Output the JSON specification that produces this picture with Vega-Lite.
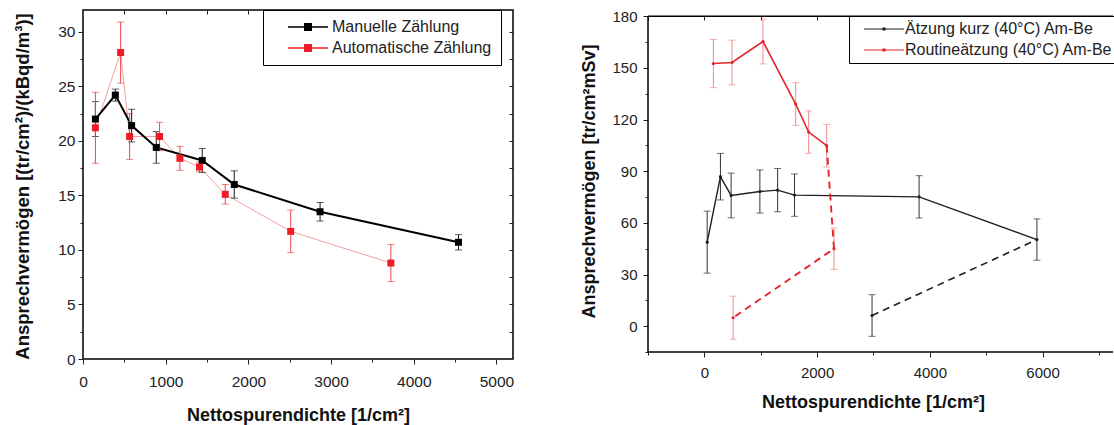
{
  "$schema": "https://vega.github.io/schema/vega-lite/v6.json",
  "padding": {"left": 13, "top": 8, "right": 0, "bottom": 0},
  "spacing": 65,
  "resolve": {"scale": {"fill": "independent"}, "legend": {"fill": "independent"}},
  "config": {
    "font": "Liberation Sans",
    "view": {"stroke": "#000", "strokeWidth": 1.5},
    "axis": {"tickColor": "#222", "labelColor": "#222", "labelFontSize": 15.5, "titleFontSize": 18, "titleFontWeight": "bold", "titleColor": "#111", "grid": false, "domain": false, "labelFlush": false, "format": "d"}
  },
  "datasets": {
    "left": [
      {"series": "Manuelle Zählung", "x": 150, "y": 22.0, "err": 1.6},
      {"series": "Manuelle Zählung", "x": 391, "y": 24.2, "err": 0.55},
      {"series": "Manuelle Zählung", "x": 588, "y": 21.4, "err": 1.5},
      {"series": "Manuelle Zählung", "x": 886, "y": 19.4, "err": 1.45},
      {"series": "Manuelle Zählung", "x": 1442, "y": 18.2, "err": 1.1},
      {"series": "Manuelle Zählung", "x": 1829, "y": 16.0, "err": 1.25},
      {"series": "Manuelle Zählung", "x": 2867, "y": 13.5, "err": 0.85},
      {"series": "Manuelle Zählung", "x": 4541, "y": 10.7, "err": 0.7},
      {"series": "Automatische Zählung", "x": 150, "y": 21.2, "err": 3.25},
      {"series": "Automatische Zählung", "x": 455, "y": 28.1, "err": 2.8},
      {"series": "Automatische Zählung", "x": 564, "y": 20.4, "err": 2.1},
      {"series": "Automatische Zählung", "x": 926, "y": 20.4, "err": 1.3},
      {"series": "Automatische Zählung", "x": 1172, "y": 18.4, "err": 1.1},
      {"series": "Automatische Zählung", "x": 1409, "y": 17.6, "err": 0.45},
      {"series": "Automatische Zählung", "x": 1720, "y": 15.1, "err": 0.9},
      {"series": "Automatische Zählung", "x": 2512, "y": 11.7, "err": 1.95},
      {"series": "Automatische Zählung", "x": 3723, "y": 8.8, "err": 1.7}
    ],
    "rl": [
      {"series": "Ätzung kurz (40°C) Am-Be", "part": "solid", "o": 1, "x": 50, "y": 48.8},
      {"series": "Ätzung kurz (40°C) Am-Be", "part": "solid", "o": 2, "x": 285, "y": 86.8},
      {"series": "Ätzung kurz (40°C) Am-Be", "part": "solid", "o": 3, "x": 475, "y": 75.9},
      {"series": "Ätzung kurz (40°C) Am-Be", "part": "solid", "o": 4, "x": 985, "y": 78.2},
      {"series": "Ätzung kurz (40°C) Am-Be", "part": "solid", "o": 5, "x": 1300, "y": 79.0},
      {"series": "Ätzung kurz (40°C) Am-Be", "part": "solid", "o": 6, "x": 1600, "y": 76.1},
      {"series": "Ätzung kurz (40°C) Am-Be", "part": "solid", "o": 7, "x": 3810, "y": 75.1},
      {"series": "Ätzung kurz (40°C) Am-Be", "part": "solid", "o": 8, "x": 5900, "y": 50.3},
      {"series": "Ätzung kurz (40°C) Am-Be", "part": "dashed", "o": 1, "x": 2975, "y": 6.2},
      {"series": "Ätzung kurz (40°C) Am-Be", "part": "dashed", "o": 2, "x": 5900, "y": 50.3},
      {"series": "Routineätzung (40°C) Am-Be", "part": "solid", "o": 1, "x": 160, "y": 152.5},
      {"series": "Routineätzung (40°C) Am-Be", "part": "solid", "o": 2, "x": 490, "y": 153.1},
      {"series": "Routineätzung (40°C) Am-Be", "part": "solid", "o": 3, "x": 1040, "y": 165.3},
      {"series": "Routineätzung (40°C) Am-Be", "part": "solid", "o": 4, "x": 1620, "y": 129.0},
      {"series": "Routineätzung (40°C) Am-Be", "part": "solid", "o": 5, "x": 1850, "y": 112.7},
      {"series": "Routineätzung (40°C) Am-Be", "part": "solid", "o": 6, "x": 2170, "y": 104.8},
      {"series": "Routineätzung (40°C) Am-Be", "part": "dashed", "o": 1, "x": 2170, "y": 104.8},
      {"series": "Routineätzung (40°C) Am-Be", "part": "dashed", "o": 2, "x": 2300, "y": 45.0},
      {"series": "Routineätzung (40°C) Am-Be", "part": "dashed", "o": 3, "x": 510, "y": 4.9}
    ],
    "rp": [
      {"series": "Ätzung kurz (40°C) Am-Be", "x": 50, "y": 48.8, "err": 18},
      {"series": "Ätzung kurz (40°C) Am-Be", "x": 285, "y": 86.8, "err": 13.5},
      {"series": "Ätzung kurz (40°C) Am-Be", "x": 475, "y": 75.9, "err": 13},
      {"series": "Ätzung kurz (40°C) Am-Be", "x": 985, "y": 78.2, "err": 12.5},
      {"series": "Ätzung kurz (40°C) Am-Be", "x": 1300, "y": 79.0, "err": 12.6},
      {"series": "Ätzung kurz (40°C) Am-Be", "x": 1600, "y": 76.1, "err": 12.3},
      {"series": "Ätzung kurz (40°C) Am-Be", "x": 3810, "y": 75.1, "err": 12.3},
      {"series": "Ätzung kurz (40°C) Am-Be", "x": 5900, "y": 50.3, "err": 12},
      {"series": "Ätzung kurz (40°C) Am-Be", "x": 2975, "y": 6.2, "err": 12.1},
      {"series": "Routineätzung (40°C) Am-Be", "x": 160, "y": 152.5, "err": 14},
      {"series": "Routineätzung (40°C) Am-Be", "x": 490, "y": 153.1, "err": 13},
      {"series": "Routineätzung (40°C) Am-Be", "x": 1040, "y": 165.3, "err": 13},
      {"series": "Routineätzung (40°C) Am-Be", "x": 1620, "y": 129.0, "err": 12.4},
      {"series": "Routineätzung (40°C) Am-Be", "x": 1850, "y": 112.7, "err": 12.3},
      {"series": "Routineätzung (40°C) Am-Be", "x": 2170, "y": 104.8, "err": 12.4},
      {"series": "Routineätzung (40°C) Am-Be", "x": 2300, "y": 45.0, "err": 12},
      {"series": "Routineätzung (40°C) Am-Be", "x": 510, "y": 4.9, "err": 12.5}
    ]
  },
  "hconcat": [
    {
      "width": 430,
      "height": 349,
      "data": {"name": "left"},
      "layer": [
        {
          "transform": [{"filter": "datum.series === 'Automatische Zählung'"}],
          "mark": {"type": "line", "color": "#f3a0a0", "strokeWidth": 1},
          "encoding": {
            "x": {"field": "x", "type": "quantitative", "scale": {"domain": [0, 5200], "nice": false, "zero": false},
                  "axis": {"orient": "bottom", "values": [0, 1000, 2000, 3000, 4000, 5000], "tickSize": 5, "labelPadding": 10, "title": "Nettospurendichte [1/cm²]", "titlePadding": 17}},
            "y": {"field": "y", "type": "quantitative", "scale": {"domain": [0, 32], "nice": false, "zero": false},
                  "axis": {"orient": "left", "values": [0, 5, 10, 15, 20, 25, 30], "tickSize": 5, "labelPadding": 3, "title": "Ansprechvermögen [(tr/cm²)/(kBqd/m³)]", "titleFontSize": 18.5, "titlePadding": 25, "titleY": 176}}
          }
        },
        {
          "transform": [{"filter": "datum.series === 'Manuelle Zählung'"}],
          "mark": {"type": "line", "color": "#000000", "strokeWidth": 2},
          "encoding": {
            "x": {"field": "x", "type": "quantitative", "scale": {"domain": [0, 5200], "nice": false, "zero": false},
                  "axis": {"orient": "bottom", "values": [500, 1500, 2500, 3500, 4500], "labels": false, "tickSize": 3, "title": null}},
            "y": {"field": "y", "type": "quantitative", "scale": {"domain": [0, 32], "nice": false, "zero": false},
                  "axis": {"orient": "left", "values": [2.5, 7.5, 12.5, 17.5, 22.5, 27.5], "labels": false, "tickSize": 3, "title": null}}
          }
        },
        {
          "transform": [{"filter": "datum.series === 'Manuelle Zählung'"}],
          "mark": {"type": "errorbar", "ticks": {"size": 7}, "thickness": 1, "color": "#1a1a1a"},
          "encoding": {
            "x": {"field": "x", "type": "quantitative", "axis": null},
            "y": {"field": "y", "type": "quantitative", "axis": null},
            "yError": {"field": "err"}
          }
        },
        {
          "transform": [{"filter": "datum.series === 'Automatische Zählung'"}],
          "mark": {"type": "errorbar", "ticks": {"size": 7}, "thickness": 1, "color": "#e8474c"},
          "encoding": {
            "x": {"field": "x", "type": "quantitative", "axis": null},
            "y": {"field": "y", "type": "quantitative", "axis": null},
            "yError": {"field": "err"}
          }
        },
        {
          "mark": {"type": "point", "shape": "square", "filled": true, "size": 49, "opacity": 1},
          "encoding": {
            "x": {"field": "x", "type": "quantitative", "scale": {"domain": [0, 5200], "nice": false, "zero": false},
                  "axis": {"orient": "top", "values": [500, 1000, 1500, 2000, 2500, 3000, 3500, 4000, 4500, 5000], "labels": false, "tickSize": -4, "title": null}},
            "y": {"field": "y", "type": "quantitative", "scale": {"domain": [0, 32], "nice": false, "zero": false},
                  "axis": {"orient": "right", "values": [2.5, 5, 7.5, 10, 12.5, 15, 17.5, 20, 22.5, 25, 27.5, 30], "labels": false, "tickSize": -4, "title": null}},
            "fill": {"field": "series", "type": "nominal", "scale": {"domain": ["Manuelle Zählung", "Automatische Zählung"], "range": ["#000000", "#ee1c24"]},
                     "legend": {"orient": "none", "legendX": 180, "legendY": 0, "title": null, "strokeColor": "#000", "fillColor": "#ffffff", "padding": 9, "rowPadding": 5,
                                "symbolType": "M-5,-0.2H5V0.2H-5Z M-1,-1H1V1H-1Z", "symbolSize": 64, "symbolStrokeWidth": 0, "symbolOffset": 28, "labelOffset": 16, "labelFontSize": 16, "labelColor": "#222", "labelLimit": 300}}
          }
        }
      ],
      "resolve": {"axis": {"x": "independent", "y": "independent"}}
    },
    {
      "width": 465,
      "height": 342,
      "view": {"stroke": null},
      "layer": [
        {
          "data": {"name": "rp"},
          "transform": [{"aggregate": [{"op": "count", "as": "n"}]}],
          "mark": {"type": "rule", "color": "#000", "strokeWidth": 1.5},
          "encoding": {"y": {"datum": 180, "type": "quantitative", "scale": {"domain": [-15, 183.6], "nice": false, "zero": false}, "axis": null}}
        },
        {
          "data": {"name": "rp"},
          "transform": [{"aggregate": [{"op": "count", "as": "n"}]}],
          "mark": {"type": "rule", "color": "#000", "strokeWidth": 1.5},
          "encoding": {"y": {"datum": -15, "type": "quantitative", "axis": null}}
        },
        {
          "data": {"name": "rp"},
          "transform": [{"aggregate": [{"op": "count", "as": "n"}]}],
          "mark": {"type": "rule", "color": "#000", "strokeWidth": 1.5},
          "encoding": {
            "x": {"datum": -1000, "type": "quantitative", "scale": {"domain": [-1000, 7250], "nice": false, "zero": false}, "axis": null},
            "y": {"datum": -15, "type": "quantitative", "axis": null},
            "y2": {"datum": 180}
          }
        },
        {
          "data": {"name": "rp"},
          "transform": [{"filter": "datum.series === 'Ätzung kurz (40°C) Am-Be'"}],
          "mark": {"type": "errorbar", "ticks": {"size": 7}, "thickness": 1, "color": "#333333"},
          "encoding": {
            "x": {"field": "x", "type": "quantitative", "scale": {"domain": [-1000, 7250], "nice": false, "zero": false},
                  "axis": {"orient": "bottom", "values": [0, 2000, 4000, 6000], "tickSize": 5, "labelPadding": 8, "labelFontSize": 15, "title": "Nettospurendichte [1/cm²]", "titlePadding": 13, "titleX": 225}},
            "y": {"field": "y", "type": "quantitative", "scale": {"domain": [-15, 183.6], "nice": false, "zero": false},
                  "axis": {"orient": "left", "values": [0, 30, 60, 90, 120, 150, 180], "tickSize": 5, "labelPadding": 6, "labelFontSize": 15, "title": "Ansprechvermögen [tr/cm²mSv]", "titlePadding": 13}},
            "yError": {"field": "err"}
          }
        },
        {
          "data": {"name": "rp"},
          "transform": [{"filter": "datum.series === 'Routineätzung (40°C) Am-Be'"}],
          "mark": {"type": "errorbar", "ticks": {"size": 7}, "thickness": 1, "color": "#f08a8a"},
          "encoding": {
            "x": {"field": "x", "type": "quantitative", "axis": null},
            "y": {"field": "y", "type": "quantitative", "axis": null},
            "yError": {"field": "err"}
          }
        },
        {
          "data": {"name": "rl"},
          "transform": [{"filter": "datum.part === 'solid' && datum.series === 'Ätzung kurz (40°C) Am-Be'"}],
          "mark": {"type": "line", "strokeWidth": 1.4, "color": "#1e1e1e"},
          "encoding": {
            "x": {"field": "x", "type": "quantitative", "scale": {"domain": [-1000, 7250], "nice": false, "zero": false},
                  "axis": {"orient": "bottom", "values": [-1000, 1000, 3000, 5000, 7000], "labels": false, "tickSize": 3, "title": null}},
            "y": {"field": "y", "type": "quantitative", "scale": {"domain": [-15, 183.6], "nice": false, "zero": false},
                  "axis": {"orient": "left", "values": [-15, 15, 45, 75, 105, 135, 165], "labels": false, "tickSize": 3, "title": null}},
            "order": {"field": "o", "type": "quantitative"}
          }
        },
        {
          "data": {"name": "rl"},
          "transform": [{"filter": "datum.part === 'solid' && datum.series === 'Routineätzung (40°C) Am-Be'"}],
          "mark": {"type": "line", "strokeWidth": 1.6, "color": "#e4262c"},
          "encoding": {
            "x": {"field": "x", "type": "quantitative", "axis": null},
            "y": {"field": "y", "type": "quantitative", "axis": null},
            "order": {"field": "o", "type": "quantitative"}
          }
        },
        {
          "data": {"name": "rl"},
          "transform": [{"filter": "datum.part === 'dashed' && datum.series === 'Ätzung kurz (40°C) Am-Be'"}],
          "mark": {"type": "line", "strokeWidth": 1.6, "strokeDash": [7, 5], "color": "#1e1e1e"},
          "encoding": {
            "x": {"field": "x", "type": "quantitative", "scale": {"domain": [-1000, 7250], "nice": false, "zero": false},
                  "axis": {"orient": "top", "offset": -6, "values": [-1000, 0, 1000, 2000, 3000, 4000, 5000, 6000, 7000], "labels": false, "tickSize": -4, "title": null}},
            "y": {"field": "y", "type": "quantitative", "axis": null},
            "order": {"field": "o", "type": "quantitative"}
          }
        },
        {
          "data": {"name": "rl"},
          "transform": [{"filter": "datum.part === 'dashed' && datum.series === 'Routineätzung (40°C) Am-Be'"}],
          "mark": {"type": "line", "strokeWidth": 1.9, "strokeDash": [7, 5], "color": "#e4262c"},
          "encoding": {
            "x": {"field": "x", "type": "quantitative", "axis": null},
            "y": {"field": "y", "type": "quantitative", "axis": null},
            "order": {"field": "o", "type": "quantitative"}
          }
        },
        {
          "data": {"name": "rp"},
          "mark": {"type": "point", "shape": "circle", "filled": true, "size": 10, "opacity": 1},
          "encoding": {
            "x": {"field": "x", "type": "quantitative", "axis": null},
            "y": {"field": "y", "type": "quantitative", "axis": null},
            "fill": {"field": "series", "type": "nominal", "scale": {"domain": ["Ätzung kurz (40°C) Am-Be", "Routineätzung (40°C) Am-Be"], "range": ["#1e1e1e", "#e4262c"]},
                     "legend": {"orient": "none", "legendX": 201, "legendY": 6, "title": null, "strokeColor": "#000", "fillColor": "#ffffff", "padding": 5, "rowPadding": 5,
                                "symbolType": "M-5,-0.15H5V0.15H-5Z M-0.4,-0.4H0.4V0.4H-0.4Z", "symbolSize": 64, "symbolStrokeWidth": 0, "symbolOffset": 22, "labelOffset": 13, "labelFontSize": 16, "labelColor": "#222", "labelLimit": 300}}
          }
        }
      ],
      "resolve": {"axis": {"x": "independent", "y": "independent"}}
    }
  ]
}
